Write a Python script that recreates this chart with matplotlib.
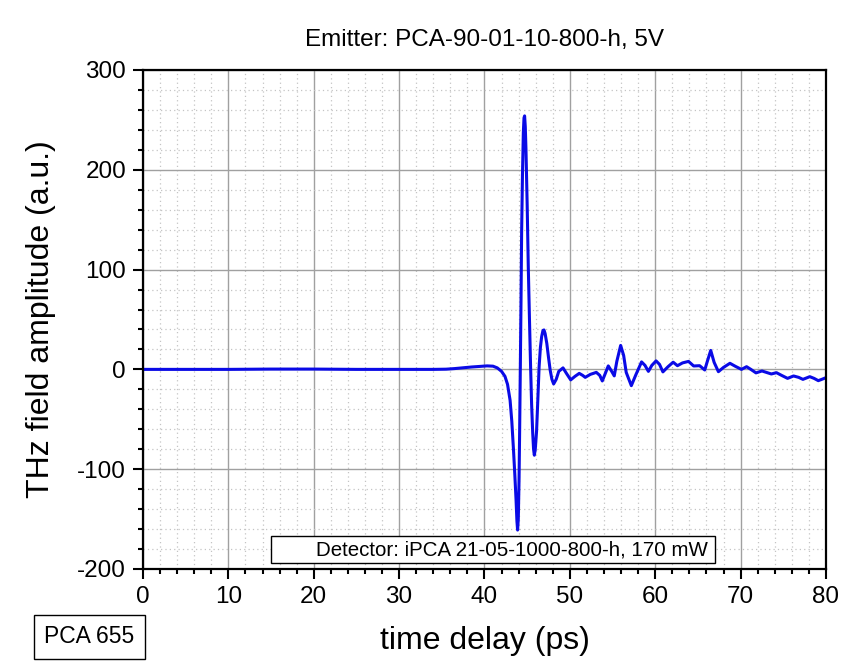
import numpy as np
import matplotlib.pyplot as plt
from matplotlib.ticker import MultipleLocator
from matplotlib.patches import Rectangle

plt.rcParams['font.family'] = ['Liberation Sans', 'DejaVu Sans']
plt.rcParams['axes.unicode_minus'] = False

# time delay (ps) and THz amplitude (a.u.)
t_ps = [0, 5, 10, 15, 20, 25, 30, 34, 35.5, 36.5, 37.5, 38.5, 39.5, 40.3, 41.0,
        41.5, 42.0, 42.4, 42.7, 43.0, 43.2, 43.4, 43.55, 43.7, 43.8, 43.88,
        43.96, 44.05, 44.12, 44.2, 44.28, 44.35, 44.45, 44.55, 44.63, 44.7,
        44.78, 44.86, 45.0, 45.13, 45.27, 45.4, 45.52, 45.65, 45.75, 45.84,
        45.95, 46.1, 46.25, 46.4, 46.55, 46.7, 46.85, 46.97, 47.1, 47.3, 47.5,
        47.7, 47.9, 48.1, 48.4, 48.7, 49.2, 49.6, 50.1, 50.6, 51.1, 51.5, 51.8,
        52.4, 53.1, 53.5, 53.8, 54.2, 54.5, 54.9, 55.2, 55.5, 55.95, 56.3, 56.6,
        57.2, 57.7, 58.4, 58.8, 59.2, 59.6, 60.1, 60.5, 60.9, 61.5, 62.1, 62.6,
        63.2, 63.9, 64.5, 65.2, 65.8, 66.1, 66.5, 66.9, 67.4, 68.0, 68.75, 69.4,
        70.1, 70.7, 71.2, 71.8, 72.5, 73.6, 74.2, 74.8, 75.5, 76.2, 76.8, 77.3,
        78.1, 78.6, 79.1, 79.5, 80.0]
amp = [0, 0, 0, 0.3, 0.3, 0, 0, 0, 0.2, 0.8, 1.6, 2.4, 3.0, 3.5, 3.2,
       1.5, -2, -7, -15, -31, -52, -81, -105, -131, -152, -161,
       -150, -110, -60, 3, 70, 137, 195, 237, 252, 254,
       243, 220, 165, 103, 50, 3, -35, -64, -80, -86,
       -80, -62, -30, 3, 22, 33, 39, 39.5, 36, 26, 12,
       -1, -10, -14.6, -10, -2, 1.5, -4, -10.5, -7, -4, -6, -8,
       -5, -3, -6, -11.6, -3, 3.5, -2, -6.5, 8, 24, 14, -3,
       -16.3, -6, 7.5, 4, -2, 4, 8.5, 5, -2.5, 2.7, 7.2, 3.7,
       6.5, 8, 3.4, 3.7, -0.6, 8, 19, 7, -2.3, 2, 6.1, 3,
       0, 2.7, 0, -3.5, -1.6, -4.6, -3.3, -6, -9, -6.6, -8, -10,
       -7.3, -9, -11.3, -10, -8.3]

fig = plt.figure(figsize=(8.45, 6.64), dpi=100)
ax = fig.add_axes([0.1692, 0.1431, 0.8083, 0.7515])

ax.plot(t_ps, amp, color='#0a0ae6', lw=2.2, solid_joinstyle='round')

ax.set_xlim(0, 80)
ax.set_ylim(-200, 300)
ax.xaxis.set_major_locator(MultipleLocator(10))
ax.xaxis.set_minor_locator(MultipleLocator(2))
ax.yaxis.set_major_locator(MultipleLocator(100))
ax.yaxis.set_minor_locator(MultipleLocator(20))

ax.grid(which='major', color='#a0a0a0', lw=1.0, ls='-')
ax.grid(which='minor', color='#c4c4c4', lw=0.9, ls=(0, (1, 2.5)))
ax.set_axisbelow(True)

for s in ax.spines.values():
    s.set_linewidth(1.6)
ax.tick_params(which='major', direction='out', length=7.2, width=1.5,
               labelsize=17.5, pad=5)
ax.tick_params(which='minor', direction='out', length=3.8, width=1.5)
ax.tick_params(top=False, right=False, which='both')

ax.set_xlabel('time delay (ps)', fontsize=23, labelpad=13)
ax.set_ylabel('THz field amplitude (a.u.)', fontsize=23, labelpad=15)
fig.text(0.573, 0.94, 'Emitter: PCA-90-01-10-800-h, 5V', fontsize=17.5,
         ha='center', va='center')

# detector label box inside the axes
ax.add_patch(Rectangle((0.1875, 0.011), 0.65, 0.055, transform=ax.transAxes,
                       fill=True, facecolor='white', edgecolor='black', lw=1.0,
                       zorder=5))
ax.text(0.8275, 0.038, 'Detector: iPCA 21-05-1000-800-h, 170 mW',
        transform=ax.transAxes, ha='right', va='center', fontsize=14.8,
        zorder=6)

fig.text(0.1058, 0.041, 'PCA 655', fontsize=16.5, ha='center', va='center',
         bbox=dict(boxstyle='square,pad=0.45', facecolor='white',
                   edgecolor='black', lw=1.0))

plt.savefig('out.png')
